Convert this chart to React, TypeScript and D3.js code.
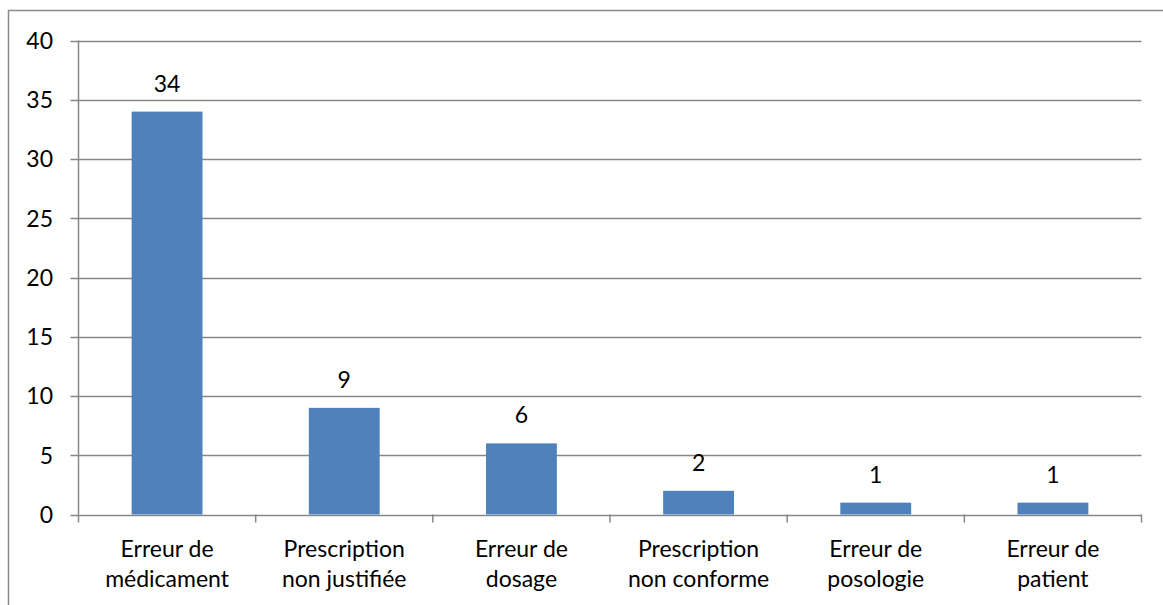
import React from 'react';
import * as d3 from 'd3';

const categories = [
    ['Erreur de', 'médicament'],
    ['Prescription', 'non justifiée'],
    ['Erreur de', 'dosage'],
    ['Prescription', 'non conforme'],
    ['Erreur de', 'posologie'],
    ['Erreur de', 'patient']
];
const values = [34, 9, 6, 2, 1, 1];
const yTicks = [0, 5, 10, 15, 20, 25, 30, 35, 40];

export default function App() {
    const w = 1163;
    const h = 605;
    const left = 78.5;
    const right = 1141.5;
    const top = 40.5;
    const bottom = 514.5;
    const font = 'Lato, "Open Sans", sans-serif';
    const grid = '#878787';

    const x = d3.scaleBand()
        .domain(d3.range(values.length).map(String))
        .range([left, right])
        .paddingInner(0.6)
        .paddingOuter(0.3);

    const band = (right - left) / values.length;

    const y = d3.scaleLinear()
        .domain([0, 40])
        .range([bottom, top]);

    return (
        <div style={{ position: 'absolute', left: 0, top: 0 }}>
            <svg width={w} height={h} style={{ display: 'block', background: 'white' }}>
                <rect x={8.5} y={10.5} width={1170} height={620} fill="white" stroke="#8a8a8a" strokeWidth={1.5} />
                {yTicks.map((t) => (
                    <g key={t}>
                        <line x1={left - 8} x2={right} y1={Math.round(y(t)) + 0.5} y2={Math.round(y(t)) + 0.5} stroke={grid} strokeWidth={1.5} />
                        <text x={53} y={y(t)} dy="0.36em" textAnchor="end" fontFamily={font} fontSize={23} fill="#000">{t}</text>
                    </g>
                ))}
                <line x1={left} x2={left} y1={top} y2={bottom} stroke={grid} strokeWidth={1.5} />
                {d3.range(values.length + 1).map((i) => (
                    <line key={i} x1={left + i * band} x2={left + i * band} y1={bottom} y2={bottom + 8} stroke={grid} strokeWidth={1.5} />
                ))}
                {values.map((v, i) => (
                    <g key={i}>
                        <rect x={x(String(i))} y={y(v)} width={x.bandwidth()} height={y(0) - y(v)} fill="#4f81bd" />
                        <text x={x(String(i)) + x.bandwidth() / 2} y={y(v) - 20} textAnchor="middle" fontFamily={font} fontSize={23} fill="#000">{v}</text>
                        {categories[i].map((line, j) => (
                            <text key={j} x={left + (i + 0.5) * band} y={557 + j * 30} textAnchor="middle" fontFamily={font} fontSize={23} fill="#000">{line}</text>
                        ))}
                    </g>
                ))}
            </svg>
        </div>
    );
}
